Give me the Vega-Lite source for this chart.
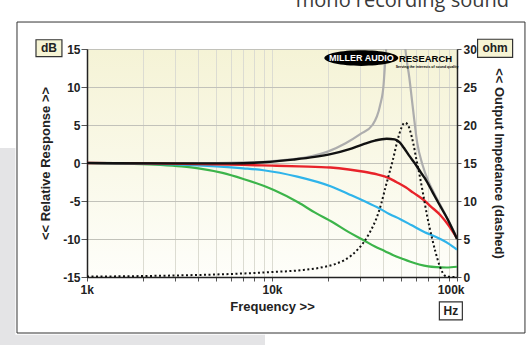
{
  "$schema": "https://vega.github.io/schema/vega-lite/v6.json",
  "width": 370,
  "height": 228,
  "autosize": {"type": "none"},
  "padding": {"left": 87, "top": 49, "right": 71, "bottom": 68},
  "background": "#ffffff",
  "config": {
    "view": {
      "stroke": "#333333",
      "strokeWidth": 1,
      "fill": {"gradient": "linear", "x1": 0, "y1": 0, "x2": 0, "y2": 1, "stops": [{"offset": 0, "color": "#f5f3d6"}, {"offset": 1, "color": "#fefefa"}]}
    },
    "axis": {
      "labelFont": "Liberation Sans",
      "labelFontWeight": "bold",
      "labelFontSize": 12,
      "labelColor": "#222222",
      "titleFont": "Liberation Sans",
      "titleFontWeight": "bold",
      "titleFontSize": 13,
      "titleColor": "#222222",
      "domainColor": "#222222",
      "domainWidth": 1.5,
      "tickColor": "#555555",
      "labelOverlap": false,
      "tickCount": 40
    }
  },
  "datasets": {
    "curves": [
      {"f": 1000, "db": 0, "s": "gray"}, {"f": 5000, "db": 0, "s": "gray"}, {"f": 9000, "db": 0.15, "s": "gray"}, {"f": 13000, "db": 0.5, "s": "gray"}, {"f": 16000, "db": 0.85, "s": "gray"}, {"f": 20000, "db": 1.5, "s": "gray"}, {"f": 25000, "db": 2.6, "s": "gray"}, {"f": 30000, "db": 3.8, "s": "gray"}, {"f": 34900, "db": 5.0, "s": "gray"}, {"f": 38400, "db": 7.6, "s": "gray"}, {"f": 40100, "db": 10.3, "s": "gray"}, {"f": 40800, "db": 12.9, "s": "gray"}, {"f": 41500, "db": 15.3, "s": "gray"}, {"f": 43000, "db": 19, "s": "gray"}, {"f": 46000, "db": 22.5, "s": "gray"}, {"f": 49000, "db": 22.5, "s": "gray"}, {"f": 51000, "db": 19.5, "s": "gray"}, {"f": 52700, "db": 14.8, "s": "gray"}, {"f": 55200, "db": 11.3, "s": "gray"}, {"f": 57900, "db": 7.0, "s": "gray"}, {"f": 61000, "db": 2.6, "s": "gray"}, {"f": 65000, "db": -0.2, "s": "gray"}, {"f": 70000, "db": -2.4, "s": "gray"}, {"f": 75000, "db": -3.9, "s": "gray"}, {"f": 82000, "db": -5.7, "s": "gray"}, {"f": 90000, "db": -7.6, "s": "gray"}, {"f": 100000, "db": -9.8, "s": "gray"},
      {"f": 1000, "db": 0, "s": "green"}, {"f": 1700, "db": -0.1, "s": "green"}, {"f": 2500, "db": -0.25, "s": "green"}, {"f": 3250, "db": -0.45, "s": "green"}, {"f": 4000, "db": -0.7, "s": "green"}, {"f": 5400, "db": -1.3, "s": "green"}, {"f": 7000, "db": -2.1, "s": "green"}, {"f": 9000, "db": -3.0, "s": "green"}, {"f": 10300, "db": -3.6, "s": "green"}, {"f": 13900, "db": -5.2, "s": "green"}, {"f": 17000, "db": -6.5, "s": "green"}, {"f": 21300, "db": -7.8, "s": "green"}, {"f": 26000, "db": -9.1, "s": "green"}, {"f": 31500, "db": -10.2, "s": "green"}, {"f": 36000, "db": -11.0, "s": "green"}, {"f": 40800, "db": -11.6, "s": "green"}, {"f": 45000, "db": -12.1, "s": "green"}, {"f": 50600, "db": -12.6, "s": "green"}, {"f": 56000, "db": -13.0, "s": "green"}, {"f": 62500, "db": -13.35, "s": "green"}, {"f": 70000, "db": -13.6, "s": "green"}, {"f": 77300, "db": -13.7, "s": "green"}, {"f": 87700, "db": -13.75, "s": "green"}, {"f": 100000, "db": -13.65, "s": "green"},
      {"f": 1000, "db": 0, "s": "blue"}, {"f": 2000, "db": -0.1, "s": "blue"}, {"f": 3000, "db": -0.2, "s": "blue"}, {"f": 4000, "db": -0.32, "s": "blue"}, {"f": 5000, "db": -0.45, "s": "blue"}, {"f": 7000, "db": -0.7, "s": "blue"}, {"f": 9000, "db": -0.95, "s": "blue"}, {"f": 13700, "db": -1.8, "s": "blue"}, {"f": 20900, "db": -3.1, "s": "blue"}, {"f": 26000, "db": -4.1, "s": "blue"}, {"f": 32100, "db": -5.1, "s": "blue"}, {"f": 38200, "db": -6.0, "s": "blue"}, {"f": 43000, "db": -6.7, "s": "blue"}, {"f": 49400, "db": -7.4, "s": "blue"}, {"f": 57000, "db": -8.2, "s": "blue"}, {"f": 66900, "db": -9.1, "s": "blue"}, {"f": 75000, "db": -9.6, "s": "blue"}, {"f": 82800, "db": -10.1, "s": "blue"}, {"f": 90000, "db": -10.6, "s": "blue"}, {"f": 100000, "db": -11.4, "s": "blue"},
      {"f": 1000, "db": 0, "s": "red"}, {"f": 2000, "db": -0.05, "s": "red"}, {"f": 4000, "db": -0.15, "s": "red"}, {"f": 7000, "db": -0.25, "s": "red"}, {"f": 10000, "db": -0.35, "s": "red"}, {"f": 14000, "db": -0.45, "s": "red"}, {"f": 20700, "db": -0.6, "s": "red"}, {"f": 26000, "db": -0.85, "s": "red"}, {"f": 31500, "db": -1.15, "s": "red"}, {"f": 37000, "db": -1.5, "s": "red"}, {"f": 42600, "db": -1.95, "s": "red"}, {"f": 47000, "db": -2.5, "s": "red"}, {"f": 52800, "db": -3.2, "s": "red"}, {"f": 58000, "db": -3.9, "s": "red"}, {"f": 65600, "db": -4.8, "s": "red"}, {"f": 72000, "db": -5.7, "s": "red"}, {"f": 81600, "db": -6.9, "s": "red"}, {"f": 90000, "db": -8.2, "s": "red"}, {"f": 100000, "db": -9.9, "s": "red"},
      {"f": 1000, "db": 0, "s": "black"}, {"f": 3000, "db": -0.05, "s": "black"}, {"f": 6000, "db": -0.05, "s": "black"}, {"f": 9000, "db": 0.1, "s": "black"}, {"f": 13000, "db": 0.45, "s": "black"}, {"f": 17000, "db": 0.8, "s": "black"}, {"f": 21000, "db": 1.2, "s": "black"}, {"f": 26000, "db": 1.8, "s": "black"}, {"f": 31000, "db": 2.45, "s": "black"}, {"f": 36000, "db": 2.95, "s": "black"}, {"f": 41700, "db": 3.2, "s": "black"}, {"f": 46000, "db": 3.1, "s": "black"}, {"f": 49000, "db": 2.7, "s": "black"}, {"f": 51600, "db": 2.0, "s": "black"}, {"f": 55000, "db": 1.0, "s": "black"}, {"f": 59000, "db": 0, "s": "black"}, {"f": 64000, "db": -1.3, "s": "black"}, {"f": 67000, "db": -2.0, "s": "black"}, {"f": 74000, "db": -3.9, "s": "black"}, {"f": 80000, "db": -5.4, "s": "black"}, {"f": 89000, "db": -7.4, "s": "black"}, {"f": 100000, "db": -10.0, "s": "black"}
    ],
    "imp": [
      {"f": 1000, "ohm": 0.05}, {"f": 3000, "ohm": 0.2}, {"f": 6000, "ohm": 0.4}, {"f": 10000, "ohm": 0.65}, {"f": 14400, "ohm": 0.9}, {"f": 18000, "ohm": 1.2}, {"f": 21900, "ohm": 1.7}, {"f": 24500, "ohm": 2.2}, {"f": 26900, "ohm": 2.85}, {"f": 29000, "ohm": 3.6}, {"f": 31500, "ohm": 4.65}, {"f": 34000, "ohm": 6.0}, {"f": 36800, "ohm": 7.8}, {"f": 39000, "ohm": 9.7}, {"f": 41000, "ohm": 11.75}, {"f": 43000, "ohm": 13.6}, {"f": 44900, "ohm": 15.3}, {"f": 48200, "ohm": 18.4}, {"f": 50000, "ohm": 19.6}, {"f": 52100, "ohm": 20.3}, {"f": 54000, "ohm": 20.1}, {"f": 55700, "ohm": 19.3}, {"f": 58000, "ohm": 17.6}, {"f": 60400, "ohm": 15.4}, {"f": 63000, "ohm": 13.2}, {"f": 65500, "ohm": 11.0}, {"f": 69000, "ohm": 8.0}, {"f": 72800, "ohm": 5.4}, {"f": 76500, "ohm": 3.3}, {"f": 80500, "ohm": 1.5}, {"f": 84000, "ohm": 0.5}, {"f": 87700, "ohm": 0.05}, {"f": 100000, "ohm": 0}
    ],
    "one": [{}]
  },
  "layer": [
    {
      "layer": [
        {
          "data": {"name": "curves"},
          "transform": [{"filter": "datum.s == 'gray'"}],
          "mark": {"type": "line", "color": "#adadad", "strokeWidth": 2.2, "clip": true, "interpolate": "monotone"},
          "encoding": {
            "x": {"field": "f", "type": "quantitative", "scale": {"type": "log", "domain": [1000, 100000], "nice": false},
              "axis": {"values": [1000, 2000, 3000, 4000, 5000, 6000, 7000, 8000, 9000, 10000, 20000, 30000, 40000, 50000, 60000, 70000, 80000, 90000, 100000],
                "labelExpr": "datum.value == 1000 ? '1k' : datum.value == 10000 ? '10k' : datum.value == 100000 ? '100k' : ''",
                "grid": true, "gridColor": "#dcdcd2", "gridWidth": 1, "tickSize": 4, "tickCount": 40, "labelPadding": 3, "labelFlush": true, "labelFlushOffset": 7, "labelOverlap": false,
                "title": "Frequency >>", "titlePadding": 5}},
            "y": {"field": "db", "type": "quantitative", "scale": {"domain": [-15, 15], "nice": false},
              "axis": {"values": [-15, -10, -5, 0, 5, 10, 15], "tickCount": 40, "labelExpr": "'' + datum.value", "grid": true, "gridColor": "#c2c2ba", "gridWidth": 1, "tickSize": 6, "labelPadding": 1, "labelOverlap": false,
                "title": "<< Relative Response >>", "titlePadding": 10}}
          }
        },
        {
          "data": {"name": "curves"},
          "transform": [{"filter": "datum.s == 'green'"}],
          "mark": {"type": "line", "color": "#3cb44a", "strokeWidth": 2.2, "clip": true, "interpolate": "monotone"},
          "encoding": {"x": {"field": "f", "type": "quantitative"}, "y": {"field": "db", "type": "quantitative"}}
        },
        {
          "data": {"name": "curves"},
          "transform": [{"filter": "datum.s == 'blue'"}],
          "mark": {"type": "line", "color": "#2fb4ea", "strokeWidth": 2.2, "clip": true, "interpolate": "monotone"},
          "encoding": {"x": {"field": "f", "type": "quantitative"}, "y": {"field": "db", "type": "quantitative"}}
        },
        {
          "data": {"name": "curves"},
          "transform": [{"filter": "datum.s == 'red'"}],
          "mark": {"type": "line", "color": "#e8232a", "strokeWidth": 2.4, "clip": true, "interpolate": "monotone"},
          "encoding": {"x": {"field": "f", "type": "quantitative"}, "y": {"field": "db", "type": "quantitative"}}
        },
        {
          "data": {"name": "curves"},
          "transform": [{"filter": "datum.s == 'black'"}],
          "mark": {"type": "line", "color": "#111111", "strokeWidth": 2.4, "clip": true, "interpolate": "monotone"},
          "encoding": {"x": {"field": "f", "type": "quantitative"}, "y": {"field": "db", "type": "quantitative"}}
        },
        {
          "data": {"name": "one"},
          "mark": {"type": "point", "shape": "M-1,0 A1,0.21 0 1,1 1,0 A1,0.21 0 1,1 -1,0 Z", "filled": true, "color": "#000000", "opacity": 1, "size": 5476},
          "encoding": {"x": {"datum": 30400}, "y": {"datum": 13.8}}
        },
        {
          "data": {"name": "one"},
          "mark": {"type": "text", "text": "MILLER AUDIO", "font": "Liberation Sans", "fontWeight": "bold", "fontSize": 9, "color": "#ffffff", "align": "center", "baseline": "middle"},
          "encoding": {"x": {"datum": 30400}, "y": {"datum": 13.8}}
        },
        {
          "data": {"name": "one"},
          "mark": {"type": "text", "text": "RESEARCH", "font": "Liberation Sans", "fontWeight": "bold", "fontSize": 9.5, "color": "#000000", "align": "center", "baseline": "middle"},
          "encoding": {"x": {"datum": 67600}, "y": {"datum": 13.75}}
        },
        {
          "data": {"name": "one"},
          "mark": {"type": "text", "text": "Serving the interests of sound quality", "font": "Liberation Sans", "fontWeight": "bold", "fontSize": 3.5, "color": "#000000", "align": "center", "baseline": "middle"},
          "encoding": {"x": {"datum": 68900}, "y": {"datum": 12.6}}
        },
        {
          "data": {"name": "one"},
          "mark": {"type": "rect", "fill": "#f6f4d4", "stroke": "#333333", "strokeWidth": 1.2},
          "encoding": {"x": {"datum": 530}, "x2": {"datum": 732}, "y": {"datum": 16.22}, "y2": {"datum": 13.99}}
        },
        {
          "data": {"name": "one"},
          "mark": {"type": "text", "text": "dB", "font": "Liberation Sans", "fontWeight": "bold", "fontSize": 12, "color": "#222222", "align": "center", "baseline": "middle"},
          "encoding": {"x": {"datum": 623}, "y": {"datum": 15.1}}
        },
        {
          "data": {"name": "one"},
          "mark": {"type": "rect", "fill": "#f6f4d4", "stroke": "#333333", "strokeWidth": 1.2},
          "encoding": {"x": {"datum": 129200}, "x2": {"datum": 199800}, "y": {"datum": 16.28}, "y2": {"datum": 13.91}}
        },
        {
          "data": {"name": "one"},
          "mark": {"type": "text", "text": "ohm", "font": "Liberation Sans", "fontWeight": "bold", "fontSize": 12, "color": "#222222", "align": "center", "baseline": "middle"},
          "encoding": {"x": {"datum": 160600}, "y": {"datum": 15.09}}
        },
        {
          "data": {"name": "one"},
          "mark": {"type": "rect", "fill": "#ffffff", "stroke": "#333333", "strokeWidth": 1.2},
          "encoding": {"x": {"datum": 80300}, "x2": {"datum": 106900}, "y": {"datum": -18.28}, "y2": {"datum": -20.64}}
        },
        {
          "data": {"name": "one"},
          "mark": {"type": "text", "text": "Hz", "font": "Liberation Sans", "fontWeight": "bold", "fontSize": 12, "color": "#222222", "align": "center", "baseline": "middle"},
          "encoding": {"x": {"datum": 92700}, "y": {"datum": -19.46}}
        },
        {
          "data": {"name": "one"},
          "mark": {"type": "rect", "fill": null, "stroke": "#333333", "strokeWidth": 1},
          "encoding": {"x": {"datum": 418.4}, "x2": {"datum": 233000}, "y": {"datum": 18.55}, "y2": {"datum": -22.37}}
        },
        {
          "data": {"name": "one"},
          "mark": {"type": "rect", "fill": "#e4e4e6"},
          "encoding": {"x": {"datum": 300}, "x2": {"datum": 410}, "y": {"datum": 1.97}, "y2": {"datum": -25}}
        },
        {
          "data": {"name": "one"},
          "mark": {"type": "rect", "fill": "#e4e4e6"},
          "encoding": {"x": {"datum": 300}, "x2": {"datum": 9168}, "y": {"datum": -22.6}, "y2": {"datum": -25}}
        },
        {
          "data": {"name": "one"},
          "mark": {"type": "text", "text": "mono recording sound", "font": "Open Sans", "fontSize": 20, "color": "#3a3a3a", "align": "right", "baseline": "alphabetic"},
          "encoding": {"x": {"datum": 191000}, "y": {"datum": 20.53}}
        }
      ]
    },
    {
      "data": {"name": "imp"},
      "mark": {"type": "line", "color": "#111111", "strokeWidth": 2, "strokeDash": [2, 2.5], "interpolate": "monotone"},
      "encoding": {
        "x": {"field": "f", "type": "quantitative", "scale": {"type": "log", "domain": [1000, 100000], "nice": false}},
        "y": {"field": "ohm", "type": "quantitative", "scale": {"domain": [0, 30], "nice": false},
          "axis": {"orient": "right", "values": [0, 5, 10, 15, 20, 25, 30], "tickCount": 40, "labelExpr": "'' + datum.value", "grid": false, "tickSize": 4, "labelPadding": 2,
            "title": "<< Output Impedance (dashed)", "titlePadding": 15}}
      }
    }
  ],
  "resolve": {"scale": {"y": "independent"}}
}
